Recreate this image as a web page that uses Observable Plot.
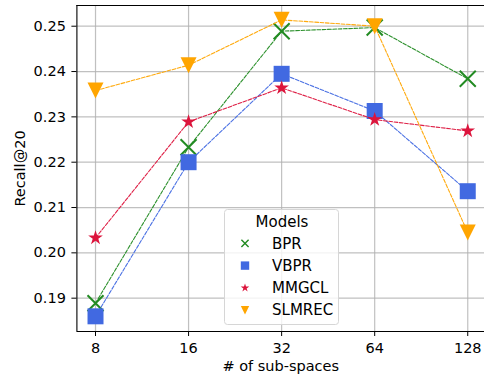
<!DOCTYPE html>
<html>
<head>
<meta charset="utf-8">
<script src="https://cdn.jsdelivr.net/npm/d3@7"></script>
<script src="https://cdn.jsdelivr.net/npm/@observablehq/plot@0.6"></script>
<style>
  html, body { margin: 0; padding: 0; background: #fff; }
  #wrap { position: relative; width: 484px; height: 385px; font-family: "DejaVu Sans", sans-serif; }
  #legend { position: absolute; left: 224px; top: 209px; }
</style>
</head>
<body>
<div id="wrap"></div>
<script>
// ---- data ----
const xValues = [8, 16, 32, 64, 128];
const yTicks = [0.19, 0.20, 0.21, 0.22, 0.23, 0.24, 0.25];
const seriesNames = ["BPR", "VBPR", "MMGCL", "SLMREC"];
const seriesColors = ["#228B22", "#4169E1", "#DC143C", "#FFA500"];
const bpr    = [0.1889, 0.2233, 0.2489, 0.2497, 0.2384];
const vbpr   = [0.1860, 0.2200, 0.2395, 0.2313, 0.2136];
const mmgcl  = [0.2033, 0.2289, 0.2364, 0.2294, 0.2269];
const slmrec = [0.2358, 0.2414, 0.2514, 0.2500, 0.2045];
const xLabel = "# of sub-spaces";
const yLabel = "Recall@20";
const legendTitle = "Models";

// ---- custom matplotlib-like symbols (size = pi r^2) ----
const rad = s => Math.sqrt(s / Math.PI);
const symTimes = { draw(c, s) { const r = rad(s); c.moveTo(-r, -r); c.lineTo(r, r); c.moveTo(-r, r); c.lineTo(r, -r); } };
const symSquare = { draw(c, s) { const r = rad(s); c.moveTo(-r, -r); c.lineTo(r, -r); c.lineTo(r, r); c.lineTo(-r, r); c.closePath(); } };
const symTriDown = { draw(c, s) { const r = rad(s); c.moveTo(0, r); c.lineTo(-r, -r); c.lineTo(r, -r); c.closePath(); } };
const symStar = { draw(c, s) {
  const R = rad(s), ri = R * 0.381966;
  for (let i = 0; i < 10; i++) {
    const a = -Math.PI / 2 + i * Math.PI / 5, rr = i % 2 ? ri : R;
    const x = rr * Math.cos(a), y = rr * Math.sin(a);
    i ? c.lineTo(x, y) : c.moveTo(x, y);
  }
  c.closePath();
} };

const seriesValues = [bpr, vbpr, mmgcl, slmrec];
const symbols = [symTimes, symSquare, symStar, symTriDown];
const markerR = [8, 8, 7.7, 8];
const legendR = [3.6, 4.2, 4.5, 4.2];
const isStroke = [true, false, false, false];

const series = seriesNames.map((name, i) => ({
  name, color: seriesColors[i], symbol: symbols[i],
  rows: xValues.map((x, j) => ({ x, y: seriesValues[i][j] }))
}));

const yDomain = [0.18265, 0.25457];
const xDomain = [Math.pow(2, 2.8), Math.pow(2, 7.18)];

const marks = [
  Plot.ruleX(xValues, { x: d => d, stroke: "#b0b0b0", strokeWidth: 1.2, strokeOpacity: 0.8 }),
  Plot.ruleY(yTicks, { y: d => d, stroke: "#b0b0b0", strokeWidth: 1.2, strokeOpacity: 0.8 })
];
series.forEach((s, i) => {
  marks.push(Plot.line(s.rows, { x: "x", y: "y", stroke: s.color, strokeWidth: 1.1, strokeDasharray: "3.7,1.6", strokeOpacity: 0.95 }));
  marks.push(Plot.dot(s.rows, {
    x: "x", y: "y", symbol: s.symbol, r: markerR[i],
    fill: isStroke[i] ? "none" : s.color,
    stroke: isStroke[i] ? s.color : "none",
    strokeWidth: isStroke[i] ? 2 : 0
  }));
});
marks.push(
  Plot.ruleX([xDomain[0]], { x: d => d, stroke: "black", strokeWidth: 1.1 }),
  Plot.ruleY(yDomain, { y: d => d, stroke: "black", strokeWidth: 1.1 }),
  Plot.axisX(xValues, { tickSize: 5, tickPadding: 6, tickFormat: d => String(d), label: null }),
  Plot.axisY(yTicks, { tickSize: 5, tickPadding: 6, tickFormat: d3.format(".2f"), label: null }),
  Plot.text([yLabel], { text: d => d, frameAnchor: "left", rotate: -90, dx: -57, fontSize: 14.5, fill: "black", textAnchor: "middle" }),
  Plot.text([xLabel], { text: d => d, frameAnchor: "bottom", dy: 39.5, fontSize: 14.5, fill: "black", textAnchor: "middle" })
);

const chart = Plot.plot({
  width: 484, height: 385,
  marginLeft: 76.4, marginRight: 0, marginTop: 5, marginBottom: 54,
  style: { fontFamily: "DejaVu Sans, sans-serif", fontSize: "14.5px", color: "black", background: "white", overflow: "visible" },
  x: { type: "log", base: 2, domain: xDomain, axis: null },
  y: { type: "linear", domain: yDomain, axis: null },
  marks
});
const wrap = document.getElementById("wrap");
wrap.appendChild(chart);

// ---- legend (inside axes, upper layer) ----
const lg = d3.select(wrap).append("svg").attr("id", "legend")
  .attr("width", 116).attr("height", 117)
  .style("font-family", "DejaVu Sans, sans-serif").style("font-size", "15px");
lg.append("rect").attr("x", 0.5).attr("y", 0.5).attr("width", 114).attr("height", 115)
  .attr("rx", 3).attr("fill", "white").attr("fill-opacity", 0.8).attr("stroke", "#d6d6d6");
lg.append("text").attr("x", 58).attr("y", 12.7).attr("dy", "0.35em").attr("text-anchor", "middle").text(legendTitle);
series.forEach((s, i) => {
  const cy = 34.3 + i * 22.3;
  const r = legendR[i];
  const p = d3.path(); s.symbol.draw(p, Math.PI * r * r);
  lg.append("path").attr("d", p.toString()).attr("transform", `translate(21,${cy})`)
    .attr("fill", isStroke[i] ? "none" : s.color)
    .attr("stroke", isStroke[i] ? s.color : "none")
    .attr("stroke-width", isStroke[i] ? 1.4 : 0);
  lg.append("text").attr("x", 48).attr("y", cy).attr("dy", "0.35em").text(s.name);
});
</script>
</body>
</html>
